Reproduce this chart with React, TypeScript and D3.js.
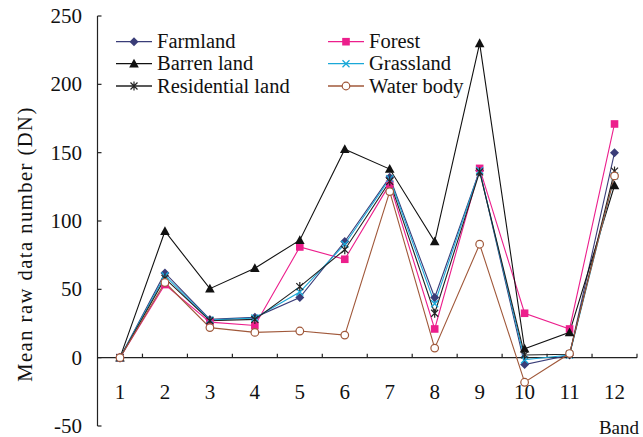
import React from 'react';
import * as d3 from 'd3';

// Band numbers along the x axis
const bands = ['1', '2', '3', '4', '5', '6', '7', '8', '9', '10', '11', '12'];
const yTicks = [-50, 0, 50, 100, 150, 200, 250];

// Mean raw DN per band
const farmland = [0, 62, 28, 29.5, 44, 85, 132, 44, 137, -5, 2, 150];
const forest = [0, 53.5, 26, 23.5, 81, 72, 127, 21, 138.5, 32.5, 21, 171];
const barren = [0, 92.5, 50.5, 65.5, 86, 152.5, 138, 85, 230, 6.5, 18.5, 126];
const grassland = [0, 60, 27.5, 29, 48, 83, 131, 39.5, 137, -1.5, 2, 133];
const residential = [0, 58, 27, 28, 52, 79, 129, 32.5, 136, 2, 2.5, 136.5];
const waterBody = [0, 55, 22, 18.5, 19.5, 16.5, 121.5, 7, 83, -18, 3, 133];

type Marker = 'diamond' | 'square' | 'triangle' | 'x' | 'star' | 'circle';

const series: { name: string; values: number[]; color: string; marker: Marker }[] = [
  { name: 'Farmland', values: farmland, color: '#3a3d78', marker: 'diamond' },
  { name: 'Forest', values: forest, color: '#ec1e8c', marker: 'square' },
  { name: 'Barren land', values: barren, color: '#111111', marker: 'triangle' },
  { name: 'Grassland', values: grassland, color: '#1aa8d8', marker: 'x' },
  { name: 'Residential land', values: residential, color: '#222222', marker: 'star' },
  { name: 'Water body', values: waterBody, color: '#a0583a', marker: 'circle' },
];

const FONT = "'Liberation Serif', 'Times New Roman', Times, serif";

const left = 97.5;
const right = 637;
const top = 16;
const bottom = 426;

const MarkerShape = ({ type, cx, cy, color }: { type: Marker; cx: number; cy: number; color: string }) => {
  switch (type) {
    case 'diamond':
      return <path d={`M${cx},${cy - 4.5}L${cx + 4.5},${cy}L${cx},${cy + 4.5}L${cx - 4.5},${cy}Z`} fill={color} />;
    case 'square':
      return <rect x={cx - 3.8} y={cy - 3.8} width={7.6} height={7.6} fill={color} />;
    case 'triangle':
      return <path d={`M${cx},${cy - 5}L${cx + 4.8},${cy + 3.8}L${cx - 4.8},${cy + 3.8}Z`} fill={color} />;
    case 'x':
      return (
        <path
          d={`M${cx - 3.5},${cy - 3.5}L${cx + 3.5},${cy + 3.5}M${cx - 3.5},${cy + 3.5}L${cx + 3.5},${cy - 3.5}`}
          stroke={color}
          strokeWidth={1.3}
        />
      );
    case 'star':
      return (
        <path
          d={`M${cx - 3.5},${cy - 3.5}L${cx + 3.5},${cy + 3.5}M${cx - 3.5},${cy + 3.5}L${cx + 3.5},${cy - 3.5}M${cx},${cy - 4.5}L${cx},${cy + 4.5}`}
          stroke={color}
          strokeWidth={1.2}
        />
      );
    case 'circle':
    default:
      return <circle cx={cx} cy={cy} r={3.8} fill="#fff" stroke={color} strokeWidth={1.2} />;
  }
};

export default function App() {
  const x = d3.scaleBand().domain(bands).range([left, right]).padding(0);
  const y = d3.scaleLinear().domain([-50, 250]).range([bottom, top]);
  const cx = (i: number) => (x(bands[i]) ?? 0) + x.bandwidth() / 2;

  const line = d3
    .line<number>()
    .x((_, i) => cx(i))
    .y((d) => y(d));

  const boundaries = bands.map((b) => (x(b) ?? 0) + x.bandwidth());

  const legendCols = [116, 328];
  const legendRows = [41.7, 63.7, 86];

  return (
    <svg width={643} height={437} style={{ position: 'absolute', left: 0, top: 0, background: '#fff' }}>
      <g style={{ fontFamily: FONT }} fill="#111">
        {/* y axis */}
        <line x1={left} x2={left} y1={top} y2={bottom} stroke="#222" strokeWidth={1.2} />
        {yTicks.map((t) => (
          <g key={t}>
            <line x1={left} x2={left + 4} y1={y(t)} y2={y(t)} stroke="#222" strokeWidth={1.2} />
            <text x={82} y={y(t)} dy="0.34em" textAnchor="end" fontSize={21}>
              {t}
            </text>
          </g>
        ))}
        <text transform="translate(32,244) rotate(-90)" textAnchor="middle" fontSize={20.5} letterSpacing={1.5}>
          Mean raw data number (DN)
        </text>

        {/* x axis at zero */}
        <line x1={left} x2={right} y1={y(0)} y2={y(0)} stroke="#222" strokeWidth={1.2} />
        {boundaries.map((bx, i) => (
          <line key={i} x1={bx} x2={bx} y1={y(0)} y2={y(0) - 4} stroke="#222" strokeWidth={1.2} />
        ))}
        {bands.map((b, i) => (
          <text key={b} x={cx(i)} y={399} textAnchor="middle" fontSize={21}>
            {b}
          </text>
        ))}
        <text x={639} y={434} textAnchor="end" fontSize={19}>
          Band
        </text>

        {/* series lines */}
        {series.map((s) => (
          <path key={s.name} d={line(s.values) ?? ''} fill="none" stroke={s.color} strokeWidth={1.1} />
        ))}
        {series.map((s) => (
          <g key={s.name + '-m'}>
            {s.values.map((v, i) => (
              <MarkerShape key={i} type={s.marker} cx={cx(i)} cy={y(v)} color={s.color} />
            ))}
          </g>
        ))}

        {/* legend: two columns, row-major */}
        {series.map((s, i) => {
          const lx = legendCols[i % 2];
          const ly = legendRows[Math.floor(i / 2)];
          return (
            <g key={s.name + '-leg'}>
              <line x1={lx} x2={lx + 36} y1={ly} y2={ly} stroke={s.color} strokeWidth={1.3} />
              <MarkerShape type={s.marker} cx={lx + 18} cy={ly} color={s.color} />
              <text x={lx + 41} y={ly} dy="0.33em" fontSize={20.5}>
                {s.name}
              </text>
            </g>
          );
        })}
      </g>
    </svg>
  );
}
